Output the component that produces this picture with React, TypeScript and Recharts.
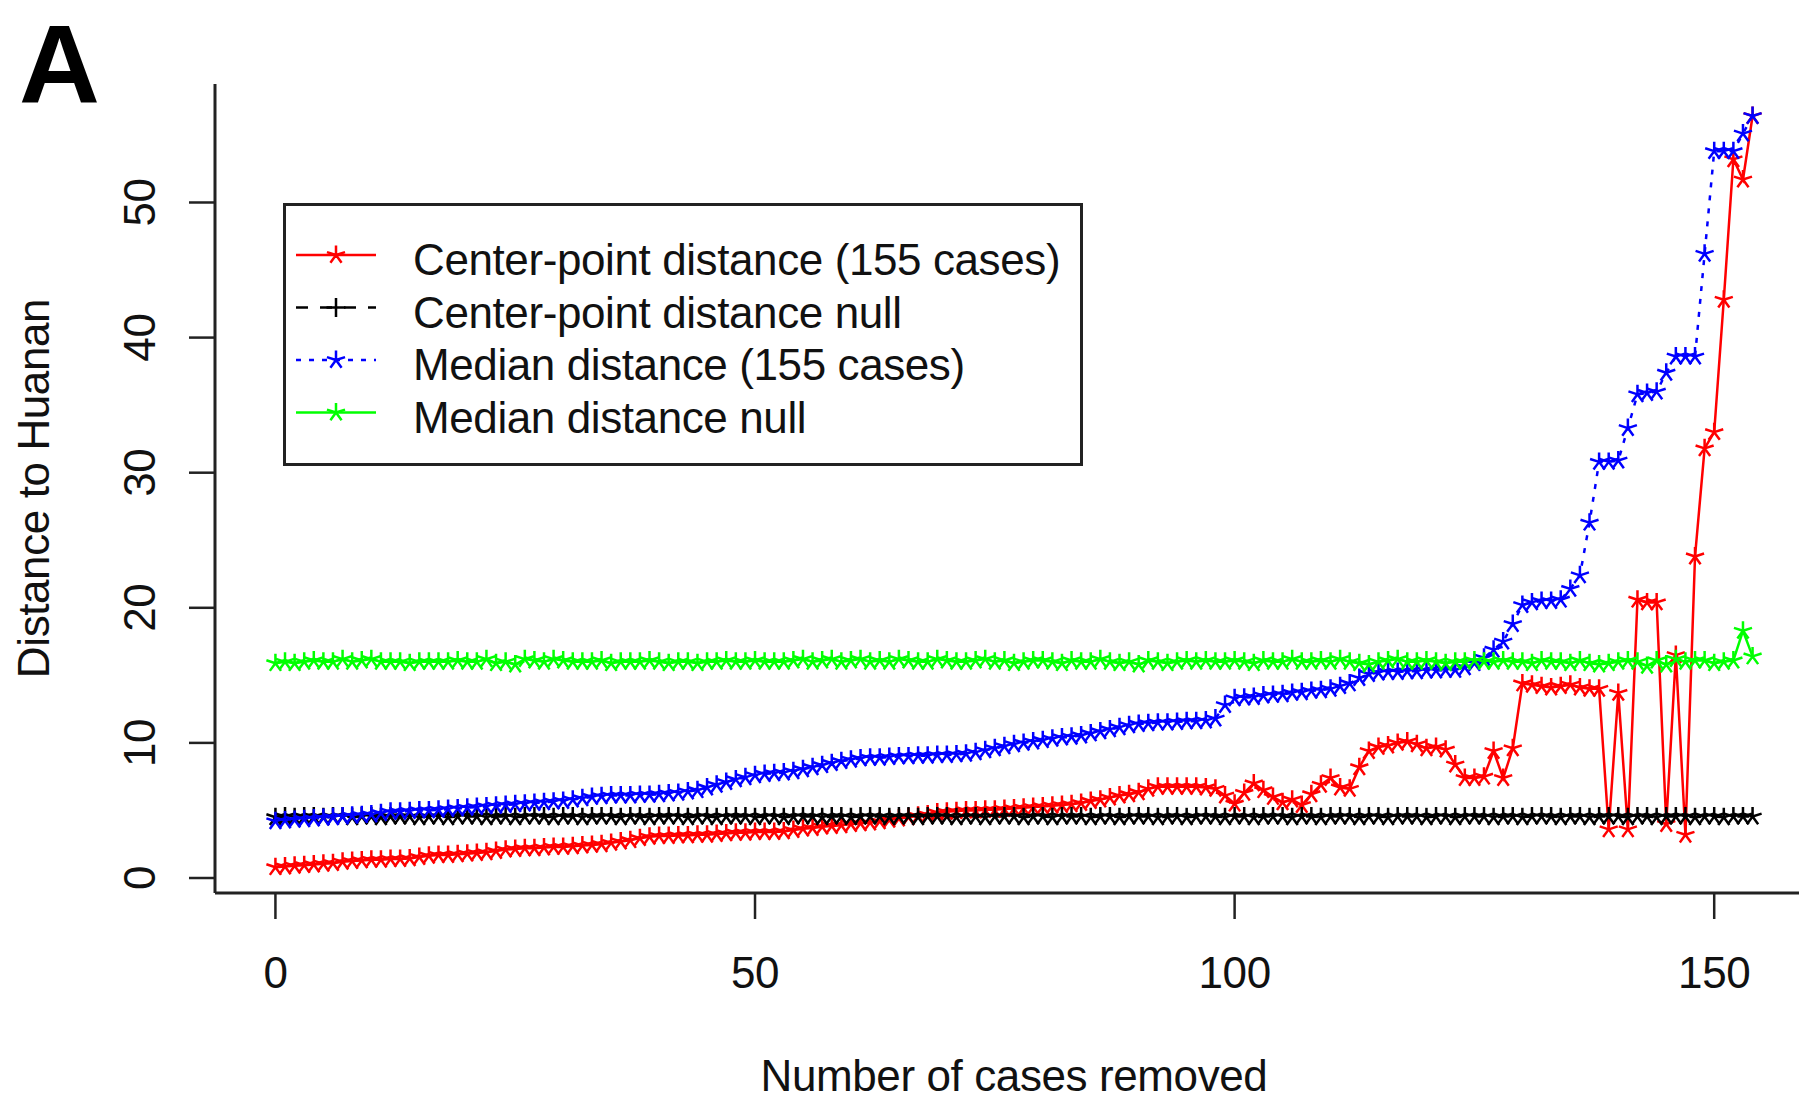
import { Legend, Line, LineChart, XAxis, YAxis } from 'recharts';

// Distance to Huanan after removing the n closest cases, n = 0..154
const centerPointDistance = [
  0.8, 0.85, 0.9, 0.95, 1.0, 1.05, 1.1, 1.2, 1.25, 1.3,
  1.35, 1.35, 1.4, 1.4, 1.45, 1.55, 1.65, 1.7, 1.7, 1.75,
  1.8, 1.85, 1.9, 2.0, 2.1, 2.15, 2.2, 2.2, 2.25, 2.3,
  2.3, 2.35, 2.4, 2.45, 2.5, 2.6, 2.7, 2.8, 2.95, 3.05,
  3.1, 3.1, 3.15, 3.15, 3.2, 3.2, 3.25, 3.3, 3.35, 3.35,
  3.4, 3.4, 3.4, 3.45, 3.55, 3.65, 3.7, 3.8, 3.85, 3.9,
  4.0, 4.05, 4.1, 4.2, 4.3, 4.4, 4.5, 4.6, 4.7, 4.85,
  4.9, 4.95, 5.0, 5.0, 5.05, 5.05, 5.1, 5.15, 5.2, 5.25,
  5.3, 5.35, 5.4, 5.45, 5.55, 5.7, 5.8, 5.95, 6.1, 6.2,
  6.35, 6.6, 6.75, 6.75, 6.75, 6.75, 6.75, 6.7, 6.6, 6.1,
  5.5, 6.3, 7.0, 6.5, 6.0, 5.6, 5.8, 5.4, 6.2, 6.9,
  7.4, 6.7, 6.6, 8.2, 9.4, 9.7, 9.8, 10.0, 10.1, 9.9,
  9.6, 9.7, 9.5, 8.4, 7.4, 7.4, 7.5, 9.4, 7.4, 9.6,
  14.4, 14.3, 14.2, 14.1, 14.2, 14.3, 14.1, 14.0, 14.0, 3.6,
  13.7, 3.6, 20.6, 20.4, 20.4, 4.0, 16.5, 3.2, 23.8, 31.8,
  33.0, 42.8, 53.2, 51.7, 56.4,
];

const centerPointNull = [
  4.5, 4.55, 4.5, 4.55, 4.55, 4.5, 4.55, 4.55, 4.5, 4.55,
  4.55, 4.5, 4.55, 4.55, 4.55, 4.5, 4.55, 4.55, 4.5, 4.55,
  4.55, 4.55, 4.5, 4.55, 4.55, 4.5, 4.55, 4.55, 4.55, 4.5,
  4.55, 4.55, 4.5, 4.55, 4.55, 4.55, 4.5, 4.55, 4.55, 4.5,
  4.55, 4.55, 4.55, 4.5, 4.55, 4.55, 4.5, 4.55, 4.55, 4.55,
  4.5, 4.55, 4.55, 4.5, 4.55, 4.55, 4.55, 4.5, 4.55, 4.55,
  4.5, 4.55, 4.55, 4.55, 4.5, 4.55, 4.55, 4.5, 4.55, 4.55,
  4.55, 4.5, 4.55, 4.55, 4.5, 4.55, 4.55, 4.55, 4.5, 4.55,
  4.55, 4.5, 4.55, 4.55, 4.55, 4.5, 4.55, 4.55, 4.5, 4.55,
  4.55, 4.55, 4.5, 4.55, 4.55, 4.5, 4.55, 4.55, 4.55, 4.5,
  4.55, 4.55, 4.5, 4.55, 4.55, 4.55, 4.5, 4.55, 4.55, 4.5,
  4.55, 4.55, 4.55, 4.5, 4.55, 4.55, 4.5, 4.55, 4.55, 4.55,
  4.5, 4.55, 4.55, 4.5, 4.55, 4.55, 4.55, 4.5, 4.55, 4.55,
  4.5, 4.55, 4.55, 4.55, 4.5, 4.55, 4.55, 4.5, 4.55, 4.55,
  4.55, 4.5, 4.55, 4.55, 4.5, 4.55, 4.55, 4.55, 4.5, 4.55,
  4.55, 4.5, 4.55, 4.55, 4.55,
];

const medianDistance = [
  4.2, 4.25, 4.3, 4.35, 4.4, 4.45, 4.5, 4.55, 4.6, 4.65,
  4.7, 4.8, 4.9, 4.9, 4.95, 5.0, 5.0, 5.05, 5.1, 5.15,
  5.2, 5.25, 5.3, 5.35, 5.4, 5.45, 5.5, 5.55, 5.6, 5.65,
  5.7, 5.8, 5.9, 6.0, 6.05, 6.1, 6.1, 6.1, 6.15, 6.15,
  6.2, 6.25, 6.3, 6.4, 6.5, 6.7, 6.9, 7.1, 7.3, 7.45,
  7.6, 7.7, 7.75, 7.8, 7.9, 8.05, 8.2, 8.35, 8.5, 8.65,
  8.75, 8.85, 8.9, 8.9, 8.95, 9.0, 9.0, 9.05, 9.05, 9.1,
  9.1, 9.15, 9.2, 9.3, 9.45, 9.6, 9.75, 9.9, 10.0, 10.1,
  10.2, 10.3, 10.4, 10.45, 10.55, 10.7, 10.85, 11.0, 11.15, 11.3,
  11.4, 11.45, 11.5, 11.5, 11.55, 11.6, 11.6, 11.65, 11.8, 12.8,
  13.3, 13.35, 13.4, 13.5, 13.55, 13.6, 13.7, 13.75, 13.85, 13.9,
  14.0, 14.2, 14.4, 14.8, 15.1, 15.2, 15.25, 15.25, 15.3, 15.3,
  15.35, 15.35, 15.4, 15.4, 15.6, 15.9, 16.3, 16.9, 17.5, 18.8,
  20.2, 20.4, 20.5, 20.5, 20.6, 21.4, 22.4, 26.3, 30.8, 30.8,
  30.9, 33.3, 35.8, 35.9, 36.0, 37.4, 38.6, 38.6, 38.6, 46.2,
  53.8, 53.8, 53.8, 55.1, 56.4,
];

const medianNull = [
  15.9, 16.0, 15.9, 16.0, 16.1, 16.0, 16.0, 16.2, 16.0, 16.1,
  16.2, 16.0, 16.0, 16.0, 15.9, 16.0, 16.0, 16.0, 16.0, 16.1,
  16.0, 16.0, 16.2, 15.9, 16.0, 15.8, 16.2, 16.1, 16.0, 16.2,
  16.1, 16.0, 16.0, 16.0, 16.1, 15.9, 16.0, 16.0, 16.0, 16.1,
  16.0, 15.9, 16.0, 16.0, 15.9, 16.0, 16.0, 16.1, 16.0, 16.0,
  16.1, 16.0, 16.0, 16.0, 16.1, 16.2, 16.0, 16.1, 16.2, 16.0,
  16.1, 16.2, 16.0, 16.1, 16.0, 16.2, 16.1, 16.0, 16.0, 16.2,
  16.1, 16.0, 16.0, 16.1, 16.2, 16.0, 16.1, 15.9, 16.0, 16.1,
  16.1, 16.0, 15.9, 16.1, 16.0, 16.0, 16.2, 16.0, 15.9, 16.0,
  15.8, 16.1, 16.0, 15.9, 16.0, 16.1, 16.0, 16.1, 16.0, 16.0,
  16.1, 16.0, 15.9, 16.1, 16.0, 16.0, 16.2, 16.0, 16.0, 16.1,
  16.0, 16.2, 16.0, 15.9, 15.8, 16.0, 16.1, 16.2, 16.0, 16.0,
  16.1, 16.0, 15.9, 16.0, 16.0, 16.1, 16.0, 16.0, 16.1, 16.0,
  16.0, 15.9, 16.1, 16.0, 16.0, 15.9, 16.1, 15.9, 15.8, 15.9,
  16.0, 16.1, 16.0, 15.7, 16.1, 15.8, 16.2, 16.0, 16.1, 16.1,
  15.9, 16.0, 16.1, 18.3, 16.4,
];

const X_TICKS = [0, 50, 100, 150];
const Y_TICKS = [0, 10, 20, 30, 40, 50];

const FONT = '"Liberation Sans", Arial, sans-serif';
const INK = '#111';
const TEXT_SPACING = -0.4;

type Marker = 'star' | 'plus';

const SERIES: { key: string; name: string; color: string; dash?: string; marker: Marker; legendMarker: Marker }[] = [
  { key: 'center', name: 'Center-point distance (155 cases)', color: '#ff0000', marker: 'star', legendMarker: 'star' },
  { key: 'centerNull', name: 'Center-point distance null', color: '#000000', dash: '12 12', marker: 'star', legendMarker: 'plus' },
  { key: 'median', name: 'Median distance (155 cases)', color: '#0000ff', dash: '5 8', marker: 'star', legendMarker: 'star' },
  { key: 'medianNull', name: 'Median distance null', color: '#00ff00', marker: 'star', legendMarker: 'star' },
];

const rows = centerPointDistance.map((value, i) => ({
  removed: i,
  center: value,
  centerNull: centerPointNull[i],
  median: medianDistance[i],
  medianNull: medianNull[i],
}));

function markerPath(kind: Marker, cx: number, cy: number, r: number): string {
  if (kind === 'plus') {
    return `M${cx - r},${cy}L${cx + r},${cy}M${cx},${cy - r}L${cx},${cy + r}`;
  }
  let d = '';
  for (let k = 0; k < 5; k++) {
    const a = ((-90 + k * 72) * Math.PI) / 180;
    d += `M${cx},${cy}L${cx + r * Math.cos(a)},${cy + r * Math.sin(a)}`;
  }
  return d;
}

function starDot(color: string, kind: Marker) {
  return (props: any) => {
    const { cx, cy, index } = props;
    if (cx == null || cy == null) return <g key={`e-${index}`} />;
    return (
      <path
        key={`m-${index}`}
        d={markerPath(kind, cx, cy, 9.5)}
        stroke={color}
        strokeWidth={2.5}
        fill='none'
      />
    );
  };
}

function XTick({ x, y, payload }: any) {
  return (
    <text x={x} y={y + 69} textAnchor='middle' fontSize={44} fontFamily={FONT} fill={INK} letterSpacing={TEXT_SPACING}>
      {payload.value}
    </text>
  );
}

function YTick({ x, y, payload }: any) {
  const bx = x - 34;
  return (
    <text
      x={bx}
      y={y}
      transform={`rotate(-90 ${bx} ${y})`}
      textAnchor='middle'
      fontSize={44}
      fontFamily={FONT}
      fill={INK}
      letterSpacing={TEXT_SPACING}
    >
      {payload.value}
    </text>
  );
}

function LegendBox() {
  return (
    <svg width={800} height={263} style={{ display: 'block' }}>
      <rect x={1.5} y={1.5} width={797} height={260} fill='#fff' stroke='#222' strokeWidth={3} />
      {SERIES.map((s, i) => {
        const rowY = 56 + i * 52.5;
        const lineY = rowY - 4;
        return (
          <g key={s.key}>
            <line
              x1={13}
              x2={93}
              y1={lineY}
              y2={lineY}
              stroke={s.color}
              strokeWidth={2.5}
              strokeDasharray={s.dash}
            />
            <path d={markerPath(s.legendMarker, 53, lineY, 9.5)} stroke={s.color} strokeWidth={2.5} fill='none' />
            <text x={130} y={rowY + 16} fontSize={44} fontFamily={FONT} fill={INK} letterSpacing={TEXT_SPACING}>
              {s.name}
            </text>
          </g>
        );
      })}
    </svg>
  );
}

export default function App() {
  return (
    <div
      style={{
        position: 'absolute',
        left: 0,
        top: 0,
        width: 1799,
        height: 1101,
        overflow: 'hidden',
        background: '#fff',
      }}
    >
      <LineChart width={1830} height={1101} data={rows} margin={{ top: 84, right: 17, bottom: 0, left: 0 }}>
        <XAxis
          dataKey='removed'
          type='number'
          domain={[-6.3, 160.3]}
          allowDataOverflow
          ticks={X_TICKS}
          height={208}
          tickSize={26}
          tickMargin={0}
          tick={<XTick />}
          tickLine={{ stroke: '#222', strokeWidth: 2.5 }}
          axisLine={{ stroke: '#222', strokeWidth: 3 }}
          label={{
            value: 'Number of cases removed',
            position: 'insideBottom',
            offset: 10,
            style: { fontSize: 44, fontFamily: FONT, fill: INK, letterSpacing: TEXT_SPACING },
          }}
        />
        <XAxis
          xAxisId='top'
          orientation='top'
          dataKey='removed'
          type='number'
          domain={[-6.3, 160.3]}
          allowDataOverflow
          height={0}
          tick={false}
          tickLine={false}
          axisLine={{ stroke: '#222', strokeWidth: 3 }}
        />
        <YAxis
          type='number'
          domain={[-1.11, 58.77]}
          allowDataOverflow
          ticks={Y_TICKS}
          width={215}
          tickSize={26}
          tickMargin={0}
          tick={<YTick />}
          tickLine={{ stroke: '#222', strokeWidth: 2.5 }}
          axisLine={{ stroke: '#222', strokeWidth: 3 }}
          label={{
            value: 'Distance to Huanan',
            angle: -90,
            position: 'insideLeft',
            offset: 33,
            style: { textAnchor: 'middle', fontSize: 44, fontFamily: FONT, fill: INK, letterSpacing: TEXT_SPACING },
          }}
        />
        <Legend
          layout='vertical'
          align='center'
          verticalAlign='middle'
          wrapperStyle={{ left: 283, top: 203, width: 800, height: 263 }}
          content={() => <LegendBox />}
        />
        {SERIES.map((s) => (
          <Line
            key={s.key}
            type='linear'
            dataKey={s.key}
            name={s.name}
            stroke={s.color}
            strokeWidth={2.5}
            strokeDasharray={s.dash}
            dot={starDot(s.color, s.marker)}
            activeDot={false}
            isAnimationActive={false}
          />
        ))}
      </LineChart>
      <svg
        width={200}
        height={170}
        style={{ position: 'absolute', left: 0, top: 0, pointerEvents: 'none' }}
      >
        <text x={19} y={103} fontSize={112} fontWeight='bold' fontFamily={FONT} fill='#000'>
          A
        </text>
      </svg>
    </div>
  );
}
